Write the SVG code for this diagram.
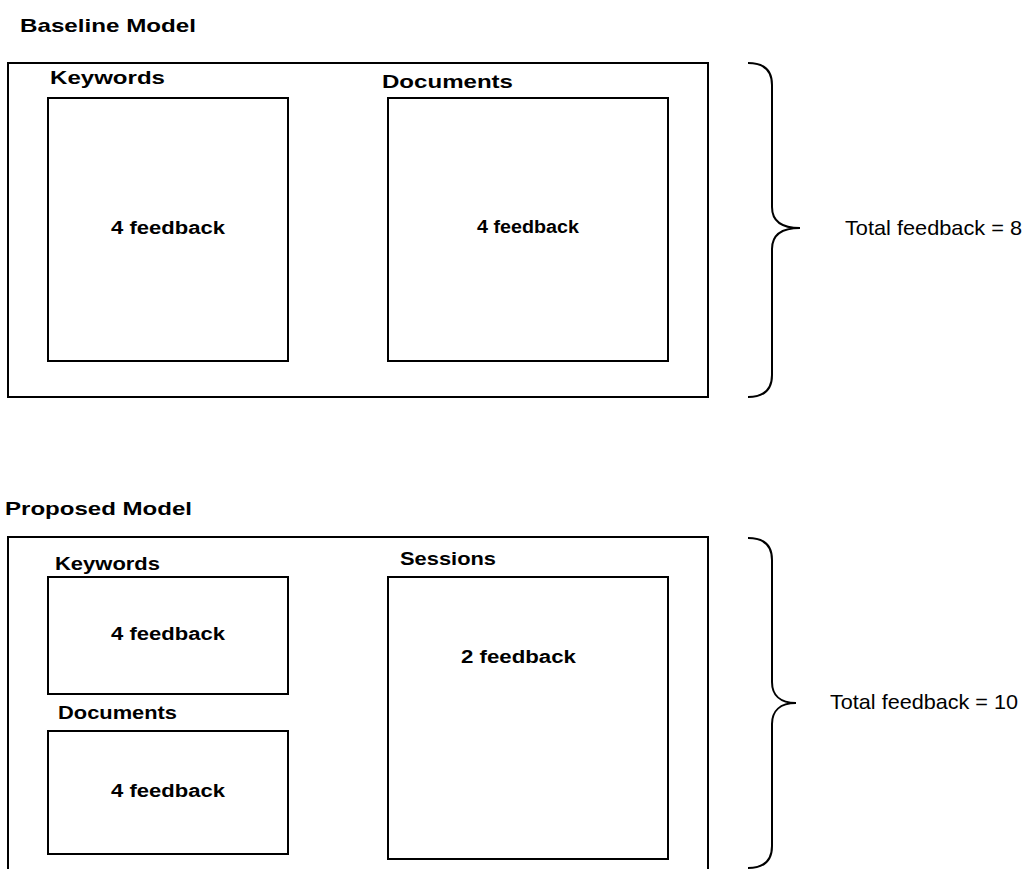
<svg xmlns="http://www.w3.org/2000/svg" width="1027" height="869" viewBox="0 0 1027 869">
  <style>
    .box { fill: #fff; stroke: #000; stroke-width: 2; }
    .brace { fill: none; stroke: #000; stroke-width: 2; }
    .title { font-family: "Liberation Sans", Arial, sans-serif; font-weight: bold; font-size: 19px; fill: #000; }
    .label { font-family: "Liberation Sans", Arial, sans-serif; font-weight: bold; font-size: 18px; fill: #000; }
    .count { font-family: "Liberation Sans", Arial, sans-serif; font-weight: bold; font-size: 18px; fill: #000; }
    .total { font-family: "Liberation Sans", Arial, sans-serif; font-size: 21px; fill: #000; }
  </style>
  <rect width="1027" height="869" fill="#fff"/>

  <!-- Baseline model -->
  <g id="baseline">
    <text class="title" x="20" y="32" textLength="176" lengthAdjust="spacingAndGlyphs">Baseline Model</text>
    <rect class="box" x="8" y="63" width="700" height="334"/>
  </g>
  <g id="baseline-keywords">
    <text class="label" x="50" y="84" textLength="115" lengthAdjust="spacingAndGlyphs">Keywords</text>
    <rect class="box" x="48" y="98" width="240" height="263"/>
    <text class="count" x="111" y="234" textLength="114" lengthAdjust="spacingAndGlyphs">4 feedback</text>
  </g>
  <g id="baseline-documents">
    <text class="label" x="382" y="88" textLength="131" lengthAdjust="spacingAndGlyphs">Documents</text>
    <rect class="box" x="388" y="98" width="280" height="263"/>
    <text class="count" x="477" y="233" font-size="16" textLength="102" lengthAdjust="spacingAndGlyphs">4 feedback</text>
  </g>
  <g id="baseline-total">
    <text class="total" x="845" y="235" textLength="177" lengthAdjust="spacingAndGlyphs">Total feedback = 8</text>
  </g>

  <!-- Proposed model -->
  <g id="proposed">
    <text class="title" x="5" y="515" font-size="20" textLength="187" lengthAdjust="spacingAndGlyphs">Proposed Model</text>
    <rect class="box" x="8" y="537" width="700" height="345"/>
  </g>
  <g id="proposed-keywords">
    <text class="label" x="55" y="570" font-size="17" textLength="105" lengthAdjust="spacingAndGlyphs">Keywords</text>
    <rect class="box" x="48" y="577" width="240" height="117"/>
    <text class="count" x="111" y="640" textLength="114" lengthAdjust="spacingAndGlyphs">4 feedback</text>
  </g>
  <g id="proposed-documents">
    <text class="label" x="58" y="719" font-size="17" textLength="119" lengthAdjust="spacingAndGlyphs">Documents</text>
    <rect class="box" x="48" y="731" width="240" height="123"/>
    <text class="count" x="111" y="797" textLength="114" lengthAdjust="spacingAndGlyphs">4 feedback</text>
  </g>
  <g id="proposed-sessions">
    <text class="label" x="400" y="565" font-size="17" textLength="96" lengthAdjust="spacingAndGlyphs">Sessions</text>
    <rect class="box" x="388" y="577" width="280" height="282"/>
    <text class="count" x="461" y="663" textLength="115" lengthAdjust="spacingAndGlyphs">2 feedback</text>
  </g>
  <g id="proposed-total">
    <text class="total" x="830" y="709" textLength="188" lengthAdjust="spacingAndGlyphs">Total feedback = 10</text>
  </g>

  <!-- Curly braces grouping each model -->
  <g id="connectors">
    <path class="brace" d="M748,63 C763,63 772,70 772,85 L772,207 C772,220 780,228 800,228 C780,228 772,236 772,249 L772,375 C772,390 763,397 748,397"/>
    <path class="brace" d="M748,538 C763,538 772,545 772,560 L772,682 C772,695 780,703 796,703 C780,703 772,711 772,724 L772,846 C772,861 763,868 748,868"/>
  </g>
</svg>
